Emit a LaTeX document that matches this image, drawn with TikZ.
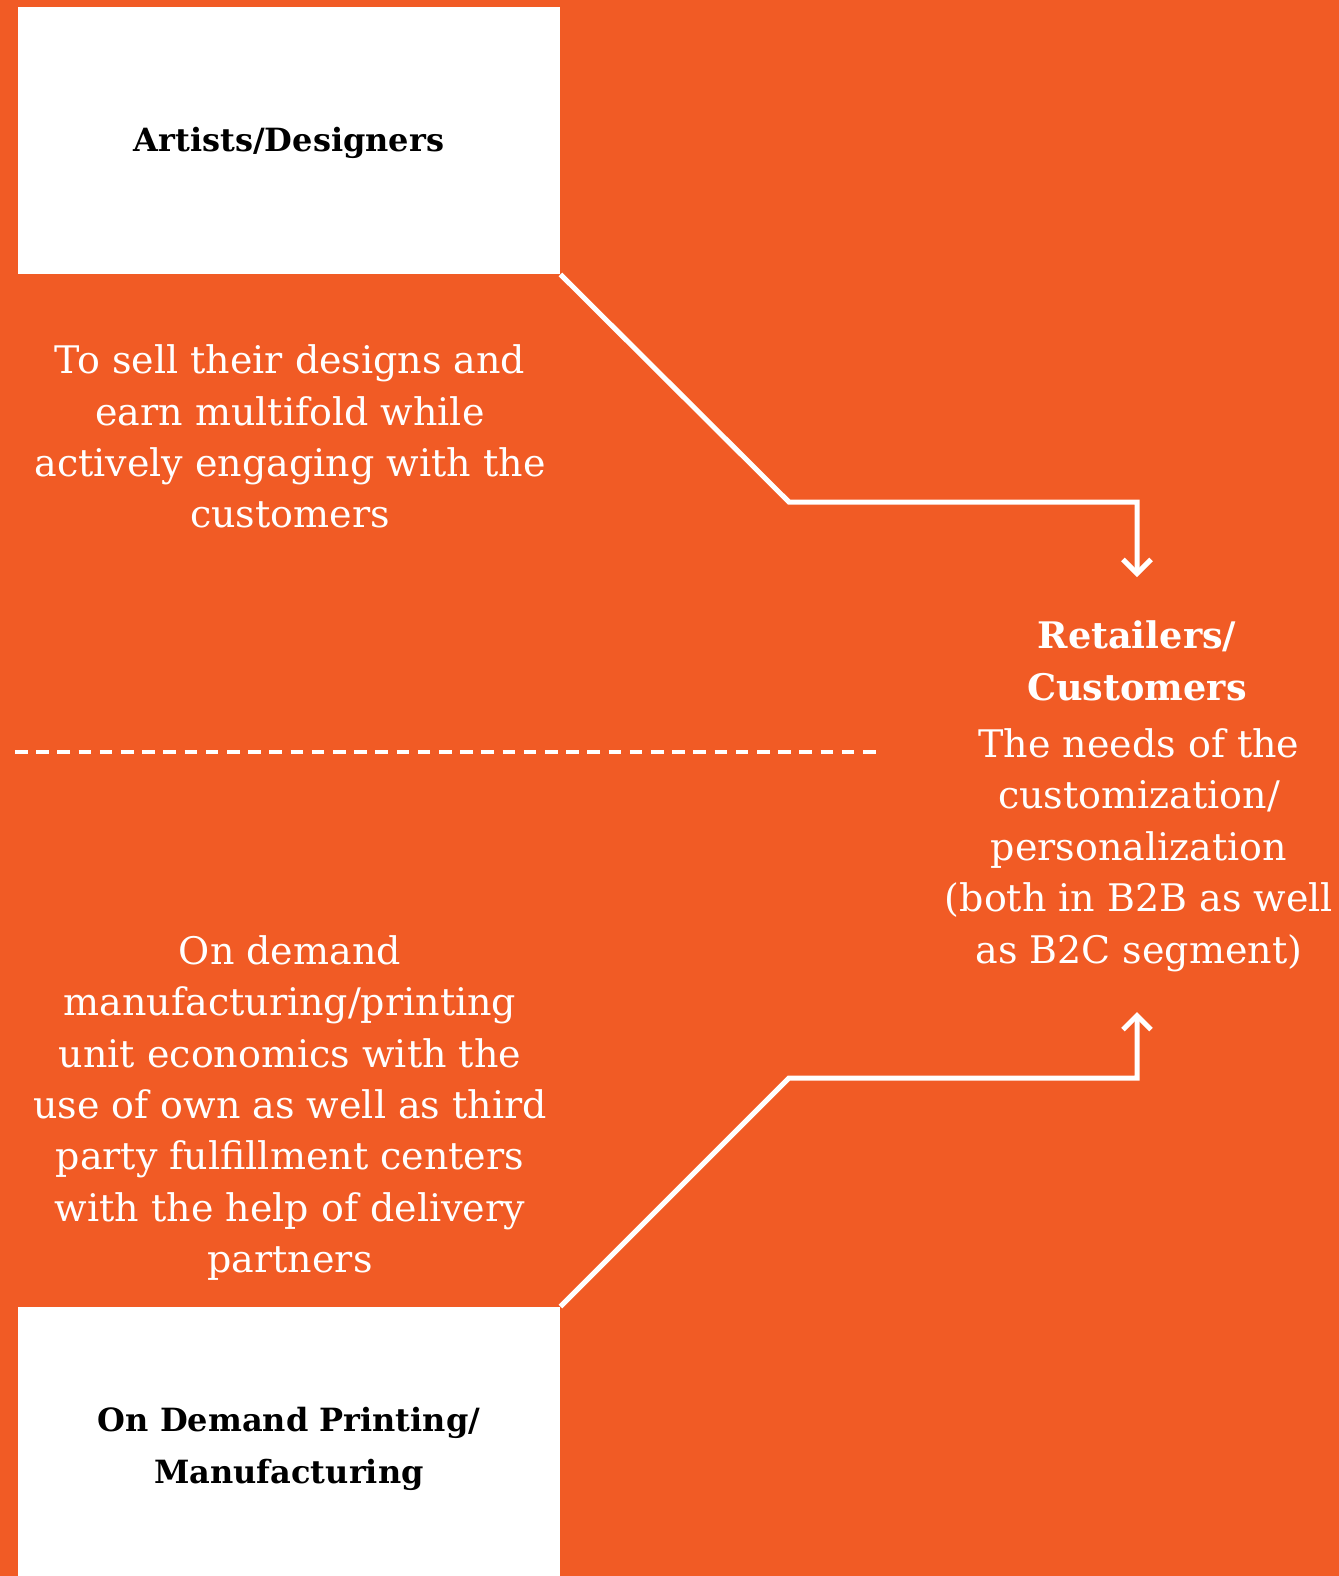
\documentclass[tikz,border=0pt]{standalone}
\usepackage{fontspec}
\setmainfont{DejaVu Serif}
\usetikzlibrary{arrows.meta}
\definecolor{bgorange}{RGB}{241,91,37}
\tikzset{
  whitebox/.style={fill=white, draw=none, inner sep=0pt, align=center, text=black, font=\bfseries\fontsize{16}{26}\selectfont},
  desc/.style={text=white, align=center, inner sep=0pt, font=\fontsize{19}{25.7}\selectfont},
  rettitle/.style={text=white, align=center, inner sep=0pt, font=\bfseries\fontsize{18.3}{25.7}\selectfont},
  conn/.style={draw=white, line width=2.5pt},
  arr/.style={-{Straight Barb[length=7pt,width=14pt,line width=2.5pt]}},
  divider/.style={draw=white, line width=1.8pt, dash pattern=on 6.3pt off 4.3pt}
}
\begin{document}
\begin{tikzpicture}[x=0.5pt,y=-0.5pt]
\fill[bgorange] (0,0) rectangle (1339,1576);
\node[whitebox, minimum width=271pt, minimum height=133.5pt] (art) at (289,140.5) {};
\node[whitebox] (artt) at (289,143) {Artists/Designers};
\node[whitebox, minimum width=271pt, minimum height=134.5pt] (mfg) at (289,1441.5) {};
\node[whitebox] (mfgt) at (289,1449) {On Demand Printing/\\Manufacturing};
\node[desc] (d1) at (290,436.7) {To sell their designs and\\earn multifold while\\actively engaging with the\\customers};
\node[desc] (d2) at (290,1108) {On demand\\manufacturing/printing\\unit economics with the\\use of own as well as third\\party fulfillment centers\\with the help of delivery\\partners};
\node[rettitle] (rt) at (1137,660.8) {Retailers/\\Customers};
\node[desc] (rd) at (1139,850) {The needs of the\\customization/\\personalization\\(both in B2B as well\\as B2C segment)};
\coordinate (k1) at (789,502);
\coordinate (k2) at (1137,502);
\coordinate (t1) at (1137,577);
\coordinate (k3) at (789,1078);
\coordinate (k4) at (1137,1078);
\coordinate (t2) at (1137,1012);
\coordinate (dl) at (15,752);
\coordinate (dr) at (876,752);
\draw[conn, arr] (art.south east) -- (k1) -- (k2) -- (t1);
\draw[conn, arr] (mfg.north east) -- (k3) -- (k4) -- (t2);
\draw[divider] (dl) -- (dr);
\end{tikzpicture}
\end{document}
